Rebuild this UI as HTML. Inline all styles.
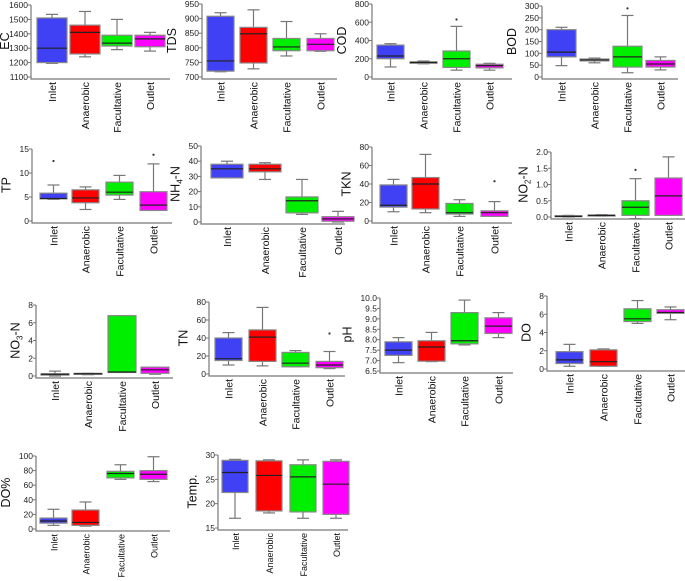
<!DOCTYPE html>
<html><head><meta charset="utf-8"><style>
html,body{margin:0;padding:0;background:#fff;}
svg{display:block;font-family:"Liberation Sans",sans-serif;}
</style></head><body>
<svg id="fig" width="685" height="581" viewBox="0 0 685 581" xmlns="http://www.w3.org/2000/svg"></svg>
<script>
const categories = ["Inlet","Anaerobic","Facultative","Outlet"];
const colors = ["#4040f5","#ff0000","#00ee00","#ff00ff"];
// each row: [lo, q1, median, q3, hi]
const EC   = [[1195,1200,1300,1510,1535],[1240,1260,1410,1460,1555],[1290,1315,1335,1390,1500],[1280,1310,1365,1390,1410]];
const TDS  = [[718,720,755,908,920],[728,748,848,870,930],[772,790,803,832,890],[788,790,812,832,848]];
const COD  = [[110,200,230,350,365],[145,150,160,165,175],[75,105,200,285,555],[75,100,125,140,150]];
const BOD  = [[48,85,105,200,210],[60,68,72,76,80],[18,42,85,130,260],[30,42,55,70,85]];
const TP   = [[4.5,4.6,4.7,5.8,7.5],[2.4,3.8,4.8,6.5,7.1],[4.5,5.4,6.0,8.1,9.5],[2.2,2.2,3.3,6.1,11.9]];
const NH4  = [[29,29,35,38,40],[28,33,35,38,39],[5,6,14,16.5,28],[0,0.5,2,3.5,7]];
const TKN  = [[10,15,17,39,45],[9,13,40,47,72],[5,7.5,9,19,23],[5,5,9,11,21]];
const NO2  = [[0,0.01,0.02,0.04,0.05],[0.03,0.04,0.05,0.06,0.07],[-0.05,0.05,0.3,0.5,1.18],[0.05,0.05,0.65,1.2,1.85]];
const NO3  = [[0,0.1,0.2,0.25,0.55],[0.15,0.2,0.25,0.3,0.3],[0.4,0.4,0.45,6.8,6.8],[0.2,0.3,0.7,1.0,1.0]];
const TN   = [[10,15,17,40,46],[9,14,41,49,74],[8,8,12,24,26],[6,7,10,14,25]];
const PH   = [[6.9,7.25,7.5,7.9,8.1],[6.95,6.97,7.65,7.95,8.35],[7.75,7.8,7.95,9.3,9.9],[8.1,8.3,8.65,9.05,9.3]];
const DO   = [[0.3,0.6,1.0,1.9,2.7],[0.3,0.3,0.8,2.1,2.2],[5.0,5.2,5.5,6.6,7.5],[5.4,6.1,6.2,6.5,6.8]];
const DOP  = [[5,8,11,15,27],[4,5,9,26,37],[68,70,76,79,88],[65,68,75,80,99]];
const TEMP = [[17,22.3,26.4,28.9,29.1],[18.1,18.5,25.8,28.8,29],[17,18.3,25.5,28,29],[17,17.8,24,28.7,29]];
const outliers = {COD:[[2,630]],BOD:[[2,290]],TP:[[0,12.5],[3,13.8]],TKN:[[3,43]],NO2:[[2,1.45]],TN:[[3,45]]};
const ticksEC=[1100,1200,1300,1400,1500,1600], ticksTDS=[700,750,800,850,900,950], ticksCOD=[0,200,400,600,800],
 ticksBOD=[0,50,100,150,200,250,300], ticksTP=[0,5,10,15], ticksNH4=[0,10,20,30,40,50], ticksTKN=[0,20,40,60,80],
 ticksNO2=[0,0.5,1.0,1.5,2.0], ticksNO3=[0,2,4,6,8], ticksTN=[0,20,40,60,80],
 ticksPH=[6.5,7.0,7.5,8.0,8.5,9.0,9.5,10.0], ticksDO=[0,2,4,6,8], ticksDOP=[0,20,40,60,80,100], ticksTEMP=[15,20,25,30];

const panels = [
 {key:'EC',label:'EC',d:EC,t:ticksEC,fmt:0,x0:31,x1:170,yT:5,yB:77,bx:[37,70,102,135],bw:30},
 {key:'TDS',label:'TDS',d:TDS,t:ticksTDS,fmt:0,x0:202,x1:337,yT:4,yB:77,bx:[207,240,273,307],bw:27},
 {key:'COD',label:'COD',d:COD,t:ticksCOD,fmt:0,x0:372,x1:512,yT:4,yB:77,bx:[377,410,443,476],bw:27},
 {key:'BOD',label:'BOD',d:BOD,t:ticksBOD,fmt:0,x0:542,x1:678,yT:6,yB:77,bx:[547,580,613,646],bw:29},
 {key:'TP',label:'TP',d:TP,t:ticksTP,fmt:0,x0:32,x1:172,yT:149,yB:221,bx:[40,72,106,140],bw:27},
 {key:'NH4',label:'NH4-N',sub:'4',d:NH4,t:ticksNH4,fmt:0,x0:201,x1:345,yT:146,yB:222,bx:[211,249,286,322],bw:32},
 {key:'TKN',label:'TKN',d:TKN,t:ticksTKN,fmt:0,x0:372,x1:512,yT:147,yB:221,bx:[380,412,446,481],bw:27},
 {key:'NO2',label:'NO2-N',sub:'2',d:NO2,t:ticksNO2,fmt:1,x0:551,x1:685,yT:152,yB:217,bx:[555,588,622,655],bw:27},
 {key:'NO3',label:'NO3-N',sub:'3',d:NO3,t:ticksNO3,fmt:0,x0:36,x1:173,yT:305,yB:376,bx:[41,74,108,141],bw:28},
 {key:'TN',label:'TN',d:TN,t:ticksTN,fmt:0,x0:209,x1:345,yT:302,yB:374,bx:[215,249,282,316],bw:27},
 {key:'PH',label:'pH',d:PH,t:ticksPH,fmt:1,x0:380,x1:513,yT:298,yB:371,bx:[385,418,451,485],bw:27},
 {key:'DO',label:'DO',d:DO,t:ticksDO,fmt:0,x0:547,x1:685,yT:296,yB:369,bx:[556,590,624,657],bw:27},
 {key:'DOP',label:'DO%',d:DOP,t:ticksDOP,fmt:0,x0:36,x1:170,yT:456,yB:529,bx:[40,72,107,140],bw:27,cf:9},
 {key:'TEMP',label:'Temp.',d:TEMP,t:ticksTEMP,fmt:0,x0:218,x1:348,yT:455,yB:528,bx:[222,256,290,323],bw:26,cf:9}
];
const NS='http://www.w3.org/2000/svg';
const svg=document.getElementById('fig');
function mk(tag,attrs,parent){const e=document.createElementNS(NS,tag);for(const k in attrs)e.setAttribute(k,attrs[k]);(parent||svg).appendChild(e);return e;}
panels.forEach(p=>{
  const g=mk('g',{});
  
  
  const lo=p.t[0], hi=p.t[p.t.length-1];
  const y=v=>p.yB-(v-lo)/(hi-lo)*(p.yB-p.yT);
  const ax=mk('path',{d:`M${p.x0} ${p.yT}V${p.yB+2}H${p.x1}`,stroke:'#777','stroke-width':1.2,fill:'none'},g);
  
  
  let maxLen=0;
  p.t.forEach(tv=>{
    mk('line',{x1:p.x0-3,x2:p.x0,y1:y(tv),y2:y(tv),stroke:'#777'},g);
    const tx=mk('text',{x:p.x0-3,y:y(tv)+3,'font-size':8.5,'text-anchor':'end',fill:'#222'},g);
    const s=p.fmt?tv.toFixed(1):String(tv);
    maxLen=Math.max(maxLen,s.replace('.','').length+(s.includes('.')?0.5:0));
    tx.textContent=s;
    
    
  });
  const tx0=Math.max(9,p.x0-4-maxLen*4.7-8);
  const yl=mk('text',{transform:`translate(${tx0},${(p.yT+p.yB)/2}) rotate(-90)`,'font-size':12.5,'text-anchor':'middle',fill:'#111'},g);
  if(p.sub){
    const parts=p.label.split(p.sub);
    yl.appendChild(document.createTextNode(parts[0]));
    const ts=mk('tspan',{'font-size':8,dy:3},yl);ts.textContent=p.sub;
    const ts2=mk('tspan',{dy:-3},yl);ts2.textContent=parts[1];
  } else yl.textContent=p.label;
  
  
  p.d.forEach((r,i)=>{
    const bx=p.bx[i], cx=bx+p.bw/2;
    const bg=mk('g',{},g);
    
    
    mk('line',{x1:cx,x2:cx,y1:y(r[0]),y2:y(r[4]),stroke:'#777','stroke-width':1.2},bg);
    mk('line',{x1:cx-6,x2:cx+6,y1:y(r[0]),y2:y(r[0]),stroke:'#777','stroke-width':1.2},bg);
    mk('line',{x1:cx-6,x2:cx+6,y1:y(r[4]),y2:y(r[4]),stroke:'#777','stroke-width':1.2},bg);
    mk('rect',{x:bx,y:y(r[3]),width:p.bw,height:Math.max(1,y(r[1])-y(r[3])),fill:colors[i],stroke:'#888','stroke-width':1.2},bg);
    mk('line',{x1:bx,x2:bx+p.bw,y1:y(r[2]),y2:y(r[2]),stroke:'#222','stroke-width':1.2},bg);
    const cl=mk('text',{transform:`translate(${cx+4},${p.yB+5}) rotate(-90)`,'font-size':p.cf||10.5,'text-anchor':'end',fill:'#111'},g);
    cl.textContent=categories[i];
    
    
  });
  (outliers[p.key]||[]).forEach(o=>{
    const c=mk('circle',{cx:p.bx[o[0]]+p.bw/2,cy:y(o[1]),r:1.1,fill:'#333'},g);
    
    
  });
});
</script>
</body></html>
